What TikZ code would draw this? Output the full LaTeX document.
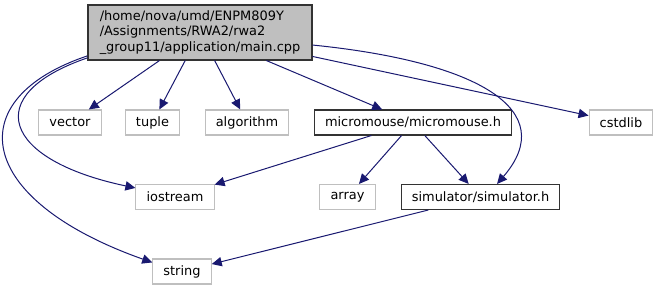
\documentclass[tikz,border=0pt]{standalone}
\usepackage{fontspec}
\setmainfont{DejaVu Sans}
\usepackage{xcolor}
\usepackage{tikz}
\usetikzlibrary{arrows.meta}
\definecolor{edgeblue}{HTML}{191970}
\definecolor{boxgray}{HTML}{BFBFBF}

\begin{document}
\begin{tikzpicture}[x=0.75pt,y=-0.75pt,
        every node/.style={font=\fontsize{9.7}{11.6}\selectfont, inner xsep=8pt, inner ysep=0pt,
                           minimum height=18.75pt, line width=0.8pt},
        ext/.style={draw=boxgray},
        hdr/.style={draw=black!80},
        dep/.style={draw=edgeblue, line width=0.75pt, -{Triangle[length=7.5pt,width=7pt]}}]
        \useasboundingbox (0,0) rectangle (660,291);
        \node[hdr, fill=boxgray, align=left, minimum width=168pt, minimum height=41.25pt] (main) at (200,32.5)
            {/home/nova/umd/ENPM809Y\\/Assignments/RWA2/rwa2\\\_group11/application/main.cpp};
        \foreach \n/\x/\y in {vector/70/122.5, tuple/152.5/122.5, algorithm/247/122.5, cstdlib/621/122.5,
                              iostream/175/197, array/347.5/197, string/182/271.5}
            \node[ext] (\n) at (\x,\y) {\n};
        \node[hdr] (mouse) at (413,122.5) {micromouse/micromouse.h};
        \node[hdr] (sim) at (480.5,197) {simulator/simulator.h};
        \foreach \a/\b in {main/vector, main/tuple, main/algorithm, main/mouse, main/cstdlib,
                           mouse/iostream, mouse/array, mouse/sim, sim/string}
            \draw[dep] (\a) -- (\b);
        \draw[dep] ([yshift=2pt]main.south west) .. controls +(-108,37) and +(-133,-28) .. ([yshift=-3pt]iostream.north west);
        \draw[dep] ([yshift=3.5pt]main.south west) .. controls +(-128,43) and +(-178,-63) .. ([yshift=-3pt]string.north west);
        \draw[dep] ([yshift=-9.4pt]main.east) .. controls +(168,17) and +(63,-73) .. ([xshift=12.4pt]sim.north);
\end{tikzpicture}
\end{document}
